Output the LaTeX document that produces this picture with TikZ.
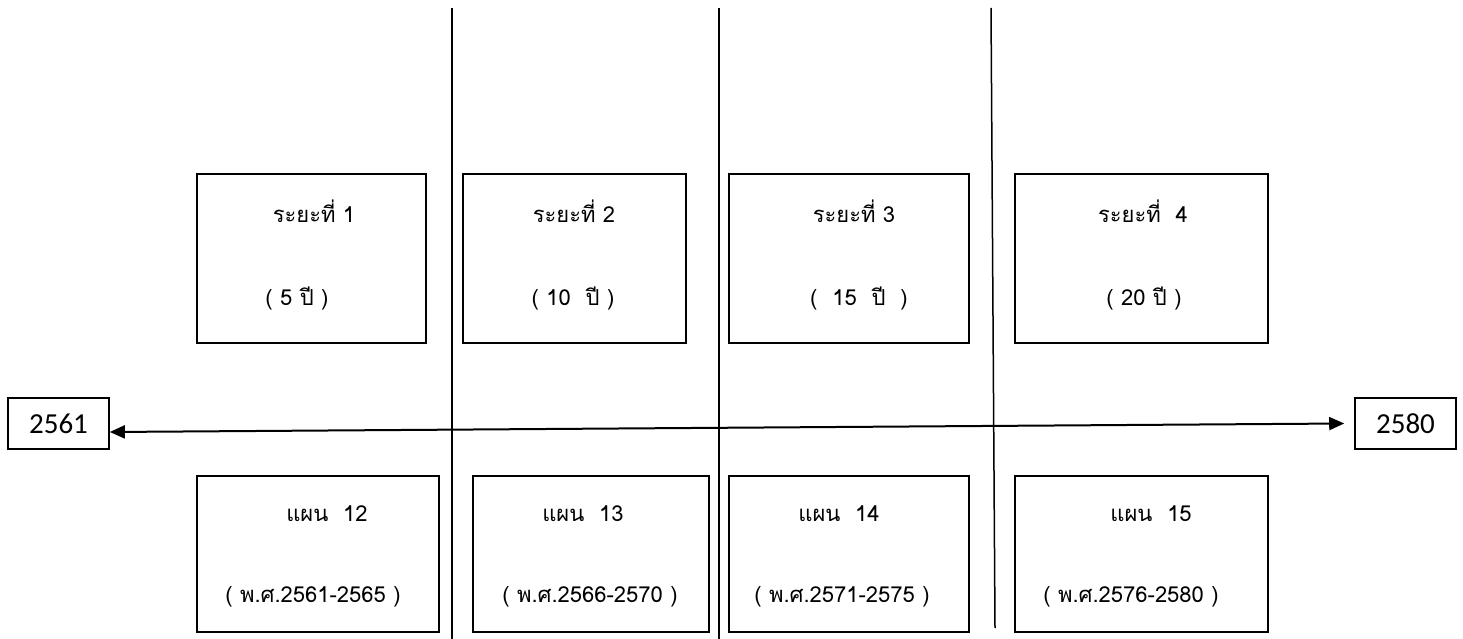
\documentclass[tikz,border=0pt]{standalone}
\usepackage{fontspec}
\setmainfont{Carlito}
\newfontfamily\thaifont[Script=Thai]{Loma}
\usetikzlibrary{arrows.meta}
\begin{document}
\begin{tikzpicture}[x=1pt,y=-1pt,
  boxbig/.style={draw,line width=2pt,inner sep=0pt,minimum height=169pt},
  boxsmall/.style={draw,line width=2pt,inner sep=0pt,minimum height=156pt},
  yearbox/.style={draw,line width=1.6pt,inner sep=0pt,minimum width=101pt,minimum height=51pt,font=\fontsize{29}{31}\selectfont},
  lbl/.style={inner sep=0pt,font=\thaifont\fontsize{22}{24}\selectfont},
  divider/.style={line width=1.5pt},
  timeline/.style={line width=2pt,{Triangle[length=15pt,width=13pt]}-{Triangle[length=15pt,width=13pt]}}]
\useasboundingbox (0,0) rectangle (1463,639);
% dividers
\draw[divider] (452,8) -- (452,639);
\draw[divider] (719,8) -- (719,639);
\draw[divider] (991,8) -- (995,628);
% top boxes
\node[boxbig,minimum width=229pt] (t1) at (311.5,258.5) {};
\node[boxbig,minimum width=223pt] (t2) at (574.5,258.5) {};
\node[boxbig,minimum width=240pt] (t3) at (849,258.5) {};
\node[boxbig,minimum width=253pt] (t4) at (1141.5,258.5) {};
% bottom boxes
\node[boxsmall,minimum width=242pt] (b1) at (318,554) {};
\node[boxsmall,minimum width=236pt] (b2) at (591,554) {};
\node[boxsmall,minimum width=240pt] (b3) at (849,554) {};
\node[boxsmall,minimum width=253pt] (b4) at (1141.5,554) {};
% top labels
\node[lbl] (t1a) at (314,211) {ระยะที่ 1};
\node[lbl] (t1b) at (297,298) {( 5 ปี )};
\node[lbl] (t2a) at (574,211) {ระยะที่ 2};
\node[lbl] (t2b) at (573,298) {( 10~~ปี )};
\node[lbl] (t3a) at (854,211) {ระยะที่ 3};
\node[lbl] (t3b) at (859,298) {(~~15~~ปี~~)};
\node[lbl] (t4a) at (1143,211) {ระยะที่~~4};
\node[lbl] (t4b) at (1144,298) {( 20 ปี )};
% bottom labels
\node[lbl] (b1a) at (327,514) {แผน~~12};
\node[lbl] (b1b) at (313,597) {( พ.ศ.2561-2565 )};
\node[lbl] (b2a) at (583,514) {แผน~~13};
\node[lbl] (b2b) at (590,597) {( พ.ศ.2566-2570 )};
\node[lbl] (b3a) at (839,514) {แผน~~14};
\node[lbl] (b3b) at (842,597) {( พ.ศ.2571-2575 )};
\node[lbl] (b4a) at (1151,514) {แผน~~15};
\node[lbl] (b4b) at (1131,597) {( พ.ศ.2576-2580 )};
% year boxes
\node[yearbox] (ys) at (58.5,423.5) {2561};
\node[yearbox] (ye) at (1405.5,423.5) {2580};
\draw[timeline] ([yshift=-8.5pt]ys.east) -- ([xshift=-10pt]ye.west);
\end{tikzpicture}
\end{document}
